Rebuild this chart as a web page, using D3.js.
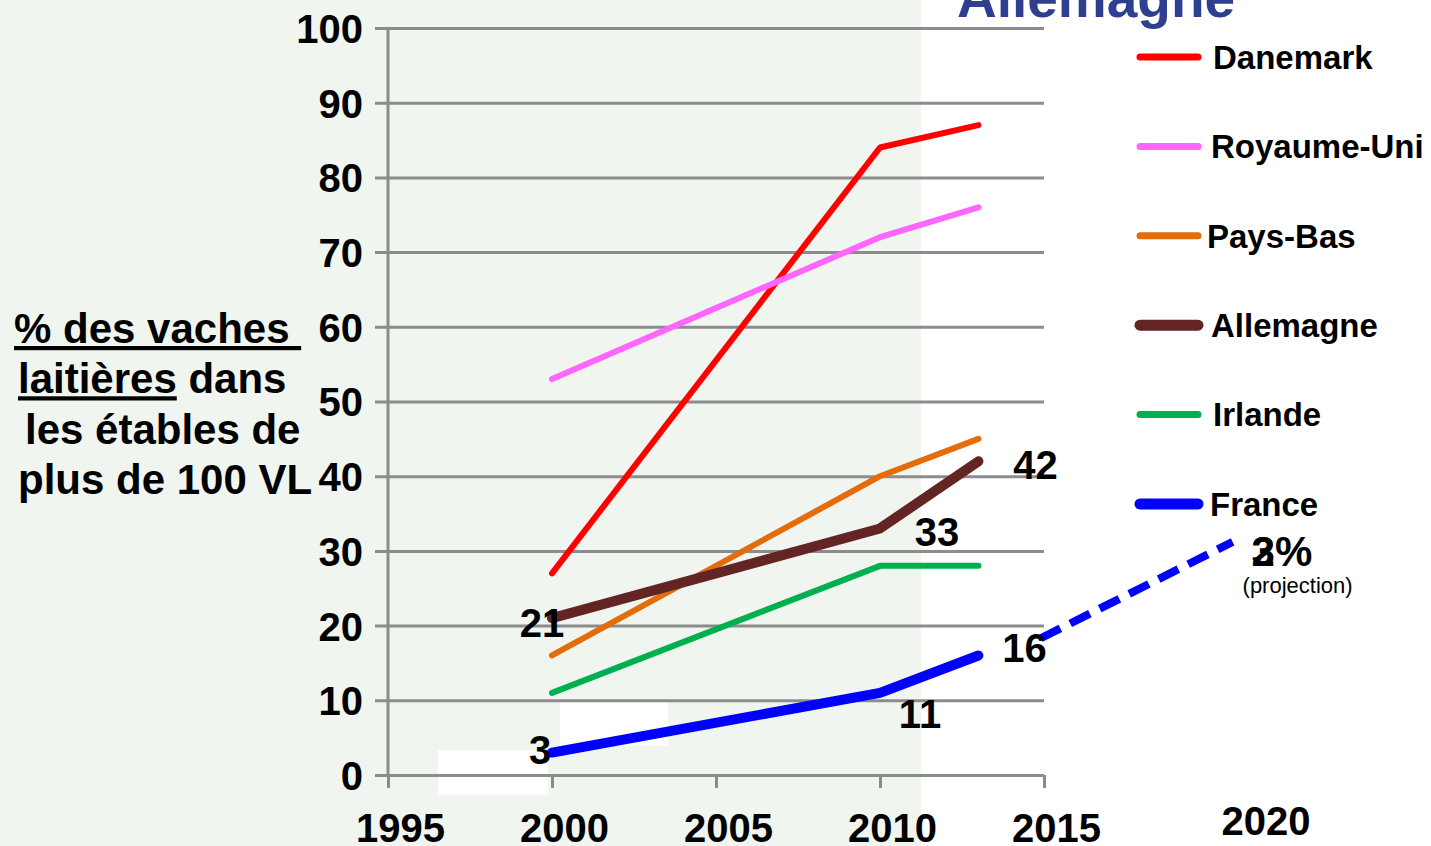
<!DOCTYPE html>
<meta charset="utf-8">
<title>Vaches laitières dans les étables de plus de 100 VL</title>
<script src="https://d3js.org/d3.v7.min.js"></script>
<style>
body {
	margin: 0;
	background: #fff;
}
svg text {
	font-family: 'Liberation Sans', Arial, sans-serif;
	font-weight: bold;
	white-space: pre;
}
</style>
<body>
<script>
// Years and values
const years = [2000, 2010, 2013];
const danemark = [27, 84, 87];
const royaumeUni = [53, 72, 76];
const paysBas = [16, 40, 45];
const allemagne = [21, 33, 42];
const irlande = [11, 28, 28];
const france = [3, 11, 16];
const franceProjectionYears = [2014.9, 2020.75];
const franceProjection = [18.3, 31.2];

const xTicks = [1995, 2000, 2005, 2010, 2015];
const yTicks = [0, 10, 20, 30, 40, 50, 60, 70, 80, 90, 100];

const series = [
	{ name: 'Danemark', values: danemark, color: '#ff0000', width: 6 },
	{ name: 'Royaume-Uni', values: royaumeUni, color: '#ff66ff', width: 6 },
	{ name: 'Pays-Bas', values: paysBas, color: '#e46c0a', width: 6 },
	{ name: 'Allemagne', values: allemagne, color: '#632523', width: 10 },
	{ name: 'Irlande', values: irlande, color: '#00b050', width: 6 },
	{ name: 'France', values: france, color: '#0000ff', width: 10 },
];

// value labels: [year, value, text]
const valueLabels = [
	[2000, 21, '21'],
	[2000, 3, '3'],
	[2010, 33, '33'],
	[2010, 11, '11'],
	[2013, 42, '42'],
	[2013, 16, '16'],
];
const labelOffsets = [[-10, 19], [-12, 11], [57, 18], [40, 35], [57, 18], [46, 7]];

const gridColor = '#8c8c8c';

const width = 1431;
const height = 846;

const x = d3.scaleLinear().domain([1995, 2015]).range([388, 1044]);
const y = d3.scaleLinear().domain([0, 100]).range([775, 28]);

const svg = d3.select('body')
	.append('svg')
		.attr('width', width)
		.attr('height', height);

// Pale green background of the old slide
svg.append('rect')
	.attr('width', 921)
	.attr('height', height)
	.attr('fill', '#f0f5ef');

// leftover white patches
svg.append('rect').attr('x', 438).attr('y', 750).attr('width', 110).attr('height', 45).attr('fill', '#fff');
svg.append('rect').attr('x', 560).attr('y', 702).attr('width', 108).attr('height', 44).attr('fill', '#fff');

// Horizontal grid + y labels
const leftAxis = svg.append('g')
	.attr('transform', `translate(${x(1995) - 13}, 0)`)
	.call(
		d3.axisLeft(y)
			.tickValues(yTicks)
			.tickSizeInner(-(x(2015) - x(1995) + 13))
			.tickSizeOuter(0)
			.tickPadding(12)
	);
leftAxis.select('.domain').remove();
leftAxis.selectAll('line')
	.attr('stroke', gridColor)
	.attr('stroke-width', 3);
leftAxis.selectAll('text')
	.attr('font-size', 40)
	.attr('fill', '#000')
	.attr('dy', '0.36em');

// vertical axis line
svg.append('line')
	.attr('x1', x(1995)).attr('x2', x(1995))
	.attr('y1', y(100)).attr('y2', y(0))
	.attr('stroke', gridColor)
	.attr('stroke-width', 3);

// Bottom axis
const bottomAxis = svg.append('g')
	.attr('transform', `translate(0, ${y(0)})`)
	.call(
		d3.axisBottom(x)
			.tickValues(xTicks)
			.tickFormat(d3.format('d'))
			.tickSizeInner(13)
			.tickSizeOuter(0)
	);
bottomAxis.select('.domain').remove();
bottomAxis.selectAll('line')
	.attr('stroke', gridColor)
	.attr('stroke-width', 3);
bottomAxis.selectAll('text')
	.attr('font-size', 40)
	.attr('fill', '#000')
	.attr('x', 12)
	.attr('y', 67)
	.attr('dy', 0);

// 2020 label, off the axis
svg.append('text')
	.attr('x', x(2020) + 58)
	.attr('y', 835)
	.attr('text-anchor', 'middle')
	.attr('font-size', 40)
	.text('2020');

// Lines
const line = d3.line()
	.x((d, i) => x(years[i]))
	.y(d => y(d));

svg.append('g')
	.selectAll('path')
	.data(series)
	.join('path')
		.attr('d', d => line(d.values))
		.attr('fill', 'none')
		.attr('stroke', d => d.color)
		.attr('stroke-width', d => d.width)
		.attr('stroke-linecap', 'round')
		.attr('stroke-linejoin', 'round');

// France projection
svg.append('path')
	.attr('d', d3.line()
		.x((d, i) => x(franceProjectionYears[i]))
		.y(d => y(d))(franceProjection))
	.attr('fill', 'none')
	.attr('stroke', '#0000ff')
	.attr('stroke-width', 8)
	.attr('stroke-dasharray', '22,11');

// Value labels
svg.append('g')
	.selectAll('text')
	.data(valueLabels)
	.join('text')
		.attr('x', (d, i) => x(d[0]) + labelOffsets[i][0])
		.attr('y', (d, i) => y(d[1]) + labelOffsets[i][1])
		.attr('text-anchor', 'middle')
		.attr('font-size', 40)
		.text(d => d[2]);

// projection label, two overlapping texts
const projEnd = [x(franceProjectionYears[1]), y(franceProjection[1])];
svg.append('text')
	.attr('x', projEnd[0] + 19)
	.attr('y', projEnd[1] + 24)
	.attr('font-size', 42)
	.text('3');
svg.append('text')
	.attr('x', projEnd[0] + 19)
	.attr('y', projEnd[1] + 24)
	.attr('font-size', 42)
	.text('2%');
svg.append('text')
	.attr('x', projEnd[0] + 65)
	.attr('y', projEnd[1] + 51)
	.attr('text-anchor', 'middle')
	.attr('font-size', 22)
	.style('font-weight', 'normal')
	.text('(projection)');

// Legend
const legend = svg.append('g')
	.selectAll('g')
	.data(series)
	.join('g')
		.attr('transform', (d, i) => `translate(1140, ${57 + i * 89.4})`);
legend.append('line')
	.attr('x2', 58)
	.attr('stroke', d => d.color)
	.attr('stroke-width', d => d.width + 1)
	.attr('stroke-linecap', 'round');
legend.append('text')
	.attr('x', (d, i) => [73, 71, 67, 71, 73, 70][i])
	.attr('dy', '0.36em')
	.attr('font-size', 33)
	.text(d => d.name);

// Title, cut at the top
svg.append('text')
	.attr('x', 957)
	.attr('y', 17)
	.attr('font-size', 55)
	.attr('fill', '#2e3f8f')
	.text('Allemagne');

// Y axis title
const titleLines = [
	[['% des vaches ', true]],
	[['laitières', true], [' dans', false]],
	[['les étables de', false]],
	[['plus de 100 VL', false]],
];
const titleX = [14, 18, 25, 18];
titleLines.forEach((parts, i) => {
	const t = svg.append('text')
		.attr('x', titleX[i])
		.attr('y', 343 + i * 50.3)
		.attr('font-size', 42);
	parts.forEach(([s, u]) => {
		t.append('tspan')
			.attr('text-decoration', u ? 'underline' : null)
			.text(s);
	});
});
</script>
</body>
